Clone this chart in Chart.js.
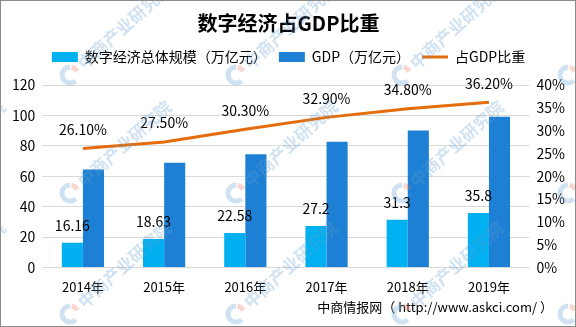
<!DOCTYPE html>
<html lang="zh-CN">
<head>
<meta charset="UTF-8">
<title>数字经济占GDP比重</title>
<script src="https://cdn.jsdelivr.net/npm/chart.js"></script>
<style>
  html, body { margin: 0; padding: 0; background: #fff; }
</style>
</head>
<body>
<canvas id="gdpChart" width="576" height="327"></canvas>
<script>
// 数据（万亿元 / %）
const years = ['2014年', '2015年', '2016年', '2017年', '2018年', '2019年'];
const digitalEconomy = [16.16, 18.63, 22.58, 27.2, 31.3, 35.8];
const gdp = [64.4, 68.9, 74.4, 82.7, 90.0, 99.1];
const shareOfGdp = [26.1, 27.5, 30.3, 32.9, 34.8, 36.2];
const leftTicks = [0, 20, 40, 60, 80, 100, 120];
const rightTicks = [0, 5, 10, 15, 20, 25, 30, 35, 40];

const FONT = "'Noto Sans CJK SC', 'Microsoft YaHei', sans-serif";
const LIGHT_BLUE = '#00b0f0';
const DARK_BLUE = '#1e80d4';
const ORANGE = '#e46c0a';

// 图例下方留白
const legendGap = {
  id: 'legendGap',
  beforeInit(chart) {
    const fit = chart.legend.fit;
    chart.legend.fit = function () {
      fit.call(this);
      this.height += 11;
    };
  }
};

// 柱子和折线上方的数值
const valueLabels = {
  id: 'valueLabels',
  afterDatasetsDraw(chart) {
    const ctx = chart.ctx;
    ctx.save();
    ctx.font = '14px ' + FONT;
    ctx.fillStyle = '#000';
    ctx.textAlign = 'center';
    ctx.textBaseline = 'middle';
    chart.getDatasetMeta(0).data.forEach((bar, i) => {
      ctx.fillText(String(digitalEconomy[i]), bar.x, bar.y - 17);
    });
    chart.getDatasetMeta(2).data.forEach((pt, i) => {
      ctx.fillText(shareOfGdp[i].toFixed(2) + '%', pt.x, pt.y - 19);
    });
    ctx.restore();
  }
};

// 来源说明、水印和外框
const sourceNote = {
  id: 'sourceNote',
  afterDraw(chart) {
    const ctx = chart.ctx;
    ctx.save();
    ctx.font = '13px ' + FONT;
    ctx.fillStyle = '#000';
    ctx.textAlign = 'right';
    ctx.textBaseline = 'middle';
    ctx.fillText('中商情报网（ http://www.askci.com/ ）', 553, 307);

    // 斜向水印
    const angle = -42 * Math.PI / 180;
    [-96, 70, 236, 402, 568].forEach(x => {
      [75, 193, 314].forEach(y => {
        ctx.save();
        ctx.translate(x, y);
        ctx.lineWidth = 5;
        ctx.strokeStyle = 'rgba(100,160,210,0.3)';
        ctx.beginPath();
        ctx.arc(0, 0, 8, 0.25 * Math.PI, 1.5 * Math.PI);
        ctx.stroke();
        ctx.strokeStyle = 'rgba(235,120,100,0.3)';
        ctx.beginPath();
        ctx.arc(0, 0, 8, 1.56 * Math.PI, 1.85 * Math.PI);
        ctx.stroke();
        ctx.rotate(angle);
        ctx.font = 'bold 17px ' + FONT;
        ctx.fillStyle = 'rgba(100,160,210,0.3)';
        ctx.textAlign = 'left';
        ctx.textBaseline = 'middle';
        ctx.fillText('中商产业研究院', 14, 0);
        ctx.restore();
      });
    });

    ctx.strokeStyle = '#8c8c8c';
    ctx.lineWidth = 1;
    ctx.strokeRect(0.5, 0.5, chart.width - 1, chart.height - 1);
    ctx.restore();
  }
};

const chart = new Chart(document.getElementById('gdpChart'), {
  type: 'bar',
  data: {
    labels: years,
    datasets: [
      {
        label: '数字经济总体规模（万亿元）',
        data: digitalEconomy,
        backgroundColor: LIGHT_BLUE,
        yAxisID: 'y',
        order: 2
      },
      {
        label: 'GDP（万亿元）',
        data: gdp,
        backgroundColor: DARK_BLUE,
        yAxisID: 'y',
        order: 2
      },
      {
        type: 'line',
        label: '占GDP比重',
        data: shareOfGdp,
        borderColor: ORANGE,
        borderWidth: 3,
        pointRadius: 0,
        fill: false,
        tension: 0,
        yAxisID: 'y1',
        order: 1
      }
    ]
  },
  options: {
    responsive: false,
    animation: false,
    devicePixelRatio: 1,
    datasets: {
      bar: { categoryPercentage: 0.52, barPercentage: 1 }
    },
    layout: { padding: { left: 5, right: 4, top: 0, bottom: 28 } },
    plugins: {
      title: {
        display: true,
        text: '数字经济占GDP比重',
        color: '#000',
        font: { family: FONT, size: 20, weight: 'bold' },
        padding: { top: 11, bottom: 3 }
      },
      legend: {
        position: 'top',
        labels: {
          usePointStyle: true,
          pointStyleWidth: 26,
          boxHeight: 10,
          padding: 12,
          color: '#000',
          font: { family: FONT, size: 14 },
          generateLabels: (c) => c.data.datasets.map((ds, i) => ({
            text: ds.label,
            datasetIndex: i,
            fillStyle: ds.type === 'line' ? ds.borderColor : ds.backgroundColor,
            strokeStyle: ds.type === 'line' ? ds.borderColor : ds.backgroundColor,
            lineWidth: ds.type === 'line' ? 3 : 0,
            pointStyle: ds.type === 'line' ? 'line' : 'rect',
            fontColor: '#000',
            hidden: false
          }))
        }
      },
      tooltip: { enabled: false }
    },
    scales: {
      x: {
        grid: { display: false },
        border: { display: false },
        ticks: { color: '#000', padding: 4, font: { family: FONT, size: 13 } }
      },
      y: {
        position: 'left',
        min: 0,
        max: 120,
        afterBuildTicks: (s) => { s.ticks = leftTicks.map(v => ({ value: v })); },
        grid: { color: '#d9d9d9', drawTicks: false },
        border: { display: false },
        ticks: { color: '#000', padding: 7, font: { family: FONT, size: 14 } }
      },
      y1: {
        position: 'right',
        min: 0,
        max: 40,
        afterBuildTicks: (s) => { s.ticks = rightTicks.map(v => ({ value: v })); },
        grid: { display: false, drawTicks: false },
        border: { display: false },
        ticks: {
          color: '#000',
          padding: 7,
          font: { family: FONT, size: 14 },
          callback: (v) => v + '%'
        }
      }
    }
  },
  plugins: [legendGap, valueLabels, sourceNote]
});
</script>
</body>
</html>
